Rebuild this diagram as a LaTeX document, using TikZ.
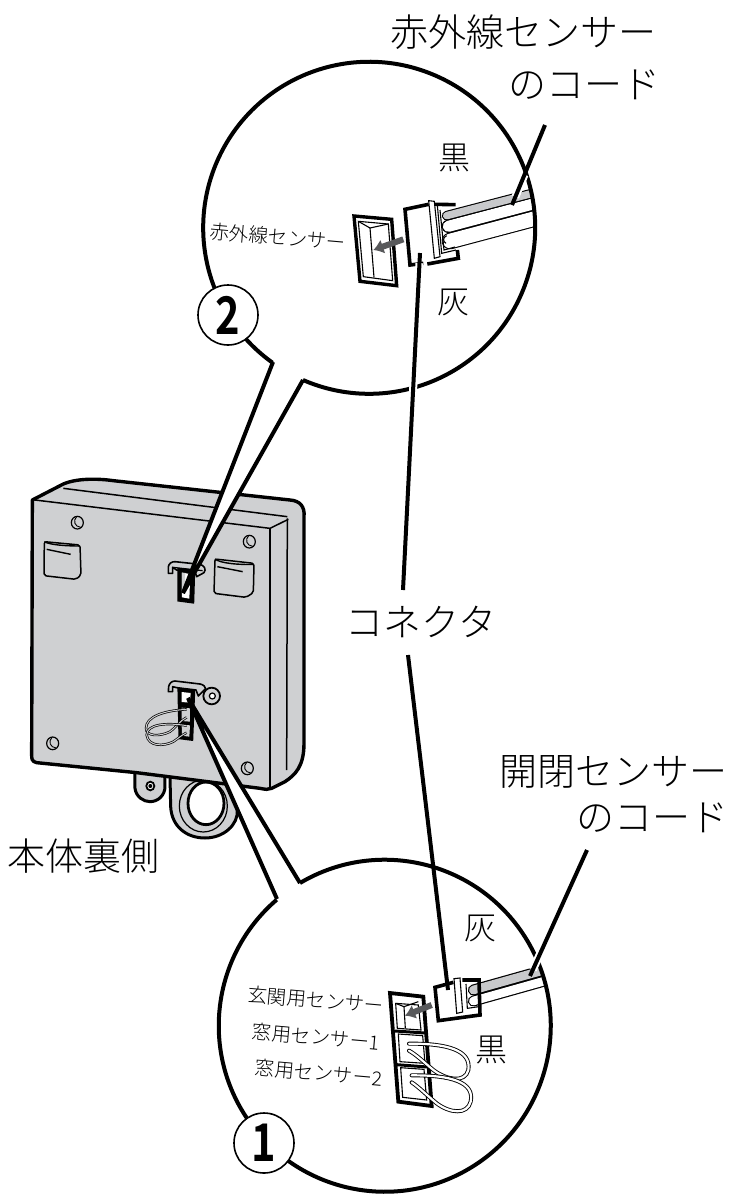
\documentclass[tikz,border=0pt]{standalone}
\usepackage{fontspec}
\setmainfont{Noto Sans CJK JP}[UprightFont=* Light,BoldFont=* Bold]
\definecolor{body}{HTML}{CFD0D2}
\definecolor{arrowgray}{HTML}{58595B}
\definecolor{wiregray}{HTML}{C8C9CB}
\usetikzlibrary{arrows.meta,calc}
\tikzset{
 big/.style={font=\fontsize{38}{38}\selectfont,inner sep=0pt},
 mid/.style={font=\fontsize{32}{32}\selectfont,inner sep=0pt},
 small/.style={font=\fontsize{19.5}{20}\selectfont,inner sep=0pt,rotate=-5},
 numc/.style={circle,draw,fill=white,line width=1.6pt,minimum size=60pt,inner sep=0pt,font=\fontsize{52}{52}\bfseries\selectfont},
 bubble/.style={line width=4pt},
 leader/.style={line width=4pt},
 halo/.style={white,line width=9pt},
 thick1/.style={line width=3pt,line join=miter},
 thin1/.style={line width=1.1pt},
 edge1/.style={line width=3pt,line join=round},
 wedge1/.style={fill=white,draw=none},
 wire/.style={black,line cap=round},
 wirein/.style={line cap=round},
 jump/.style={draw=black,line width=.9pt,double=white,double distance=2.2pt,line cap=round},
 jumpsmall/.style={draw=black,line width=.7pt,double=body,double distance=1pt},
 flow/.style={line width=6pt,arrowgray,-{Latex[length=10pt,width=15pt]}},
 hole/.style={draw=black,line width=1.2pt,fill=body},
}
\begin{document}
\begin{tikzpicture}[x=1pt,y=-1pt]
\useasboundingbox (0,0) rectangle (733,1194);
\fill[white] (0,0) rectangle (733,1194);

% ===== main unit, in 3x zoom coordinates
\begin{scope}[xshift=0pt,yshift=-460pt,x=.33333pt,y=-.33333pt]
 % ring
 \draw[edge1,fill=body] (510,950) -- (512,1040) .. controls (515,1100) and (560,1134) .. (615,1134) .. controls (670,1134) and (715,1095) .. (712,1050) -- (700,950) -- cycle;
 \draw[line width=1.2pt] (610,1038) ellipse [x radius=72pt/3,y radius=78pt/3];
 \draw[line width=2.8pt,fill=white] (618,1030) ellipse [x radius=54pt/3,y radius=64pt/3];
 % tab
 \draw[edge1,fill=body] (405,930) -- (405,985) .. controls (408,1010) and (430,1025) .. (450,1025) .. controls (475,1025) and (495,1005) .. (495,980) -- (495,945) -- cycle;
 \draw[line width=1.8pt,fill=white] (451,978) ellipse [x radius=12pt/3,y radius=13pt/3];
 \fill (451,978) circle [radius=6pt/3];
 % body
 \draw[line width=3.4pt,fill=body,line join=round] (97,120) -- (190,72) .. controls (230,55) and (290,55) .. (340,62) -- (870,120) .. controls (900,122) and (915,140) .. (912,170) -- (912,850) .. controls (912,920) and (885,945) .. (855,965) -- (815,985) .. controls (805,990) and (795,988) .. (780,985) -- (410,938) -- (110,908) .. controls (95,905) and (95,895) .. (95,885) -- cycle;
 \draw[line width=1.5pt] (105,120) -- (810,205) -- (865,178);
 \draw[line width=1.5pt] (190,85) -- (862,170);
 \draw[line width=1.5pt] (810,205) -- (810,985);
 \draw[line width=1.5pt] (862,175) -- (860,930);
 % holes
 \foreach \hx/\hy/\hn in {232/188/a,748/245/b,158/850/c,742/925/d}{
  \draw[hole] (\hx,\hy) ellipse [x radius=18pt/3,y radius=19pt/3];
  \draw[line width=.9pt] (\hx-2,\hy-18) .. controls (\hx-14,\hy-6) and (\hx-8,\hy+12) .. (\hx+10,\hy+14);
 }
 % left and right feet
 \draw[line width=1.5pt,fill=body,line join=round,rounded corners=2pt] (133,245) -- (240,255) -- (243,345) -- (228,358) -- (132,347) -- cycle;
 \draw[line width=1.4pt] (133,245) .. controls (150,255) and (200,258) .. (240,258);
 \draw[line width=1.4pt] (140,268) -- (212,283);
 \draw[line width=1.5pt,fill=body,line join=round,rounded corners=2pt] (645,297) -- (762,310) -- (760,398) -- (738,412) -- (642,400) -- cycle;
 \draw[line width=1.4pt] (645,297) .. controls (660,310) and (720,315) .. (762,313);
 \draw[line width=1.4pt] (652,320) -- (728,335);
 % upper clip + socket
 \draw[line width=1.6pt,fill=body,line join=round] (505,340) -- (505,320) .. controls (507,310) and (515,305) .. (525,305) -- (600,313) .. controls (612,316) and (620,328) .. (612,338) -- (590,350) -- (585,335) -- (530,330) -- (518,322) -- (518,340) -- cycle;
 \draw[line width=1.2pt] (518,322) -- (608,332);
 \draw[line width=1.8pt,fill=black] (535,326) -- (583,332) -- (580,428) -- (535,422) -- cycle;
 \fill[white] (546,338) -- (571,342) -- (568,416) -- (546,412) -- cycle;
 \fill[body] (546,338) -- (556,339) -- (553,400) -- (546,400) -- cycle;
 % lower clip + socket
 \draw[line width=1.6pt,fill=body,line join=round] (505,695) -- (506,680) .. controls (508,670) and (515,663) .. (525,663) -- (600,672) .. controls (610,674) and (617,680) .. (617,686) -- (595,708) -- (588,690) -- (530,683) -- (518,680) -- (518,695) -- cycle;
 \draw[line width=1.8pt,fill=black] (535,685) -- (583,692) -- (577,840) -- (538,835) -- cycle;
 \fill[white] (545,696) -- (572,699) -- (570,728) -- (545,726) -- cycle;
 \fill[body] (545,743) -- (570,745) -- (570,785) -- (545,783) -- cycle;
 \fill[body] (545,794) -- (570,796) -- (568,830) -- (546,827) -- cycle;
 \draw[line width=1.8pt] (635,708) circle [radius=25pt/3];
 \draw[line width=1.2pt,fill=white] (637,708) circle [radius=9pt/3];
 % lower loop wires
 \draw[jumpsmall] (560,748) .. controls (490,752) and (438,770) .. (438,805) .. controls (438,830) and (480,830) .. (510,815) .. controls (530,800) and (540,782) .. (560,772);
 \draw[jumpsmall] (560,797) .. controls (500,787) and (440,792) .. (440,825) .. controls (445,860) and (490,860) .. (520,845) .. controls (535,835) and (545,825) .. (560,818);
\end{scope}

% ===== bubble 2 (top)
\coordinate (cTop) at (369,228);
\coordinate (tipTop) at (183,593);
\coordinate (pTopA) at (303,380);
\coordinate (pTopB) at (273,362);
\fill[white] (cTop) circle [radius=166pt];
\fill[wedge1] (tipTop) -- (pTopA) -- (pTopB) -- cycle;
\draw[bubble,line join=miter] (pTopB) -- (tipTop) -- (pTopA);
% ===== bubble 1 (bottom)
\coordinate (cBot) at (385,1026);
\coordinate (tipBot) at (188,698);
\coordinate (pBotA) at (300,883);
\coordinate (pBotB) at (277,899);
\fill[white] (cBot) circle [radius=166pt];
\fill[wedge1] (tipBot) -- (pBotA) -- (pBotB) -- cycle;
\draw[bubble,line join=miter] (pBotB) -- (tipBot) -- (pBotA);

% ===== top detail, zoom coordinates
\begin{scope}[xshift=190pt,yshift=-110pt,x=.33333pt,y=-.33333pt]
 \begin{scope}
  \clip (cTop) circle [radius=166pt];
  \draw[wire,line width=16.7pt] (780,393) -- (1100,308);
  \draw[white,wirein,line width=14.5pt] (780,393) -- (1100,308);
  \draw[wire,line width=13.3pt] (775,349) -- (1100,263);
  \draw[white,wirein,line width=11.1pt] (775,349) -- (1100,263);
  \draw[wire,line width=9.6pt] (770,317) -- (1100,231);
  \draw[wiregray,wirein,line width=7.4pt] (770,317) -- (1100,231);
 \end{scope}
 \draw[thin1] (770,377) .. controls (758,382) and (758,395) .. (768,400);
 % socket
 \draw[thick1,line width=3.4pt,fill=white] (492,318) -- (605,328) -- (620,527) -- (510,514) -- cycle;
 \draw[thin1] (505,334) -- (595,342) -- (608,512) -- (520,500) -- cycle;
 \draw[thin1] (505,334) -- (540,354) -- (595,342);
 \draw[thin1] (540,354) -- (552,502);
 \draw[flow] (640,388) -- (550,420);
 % plug
 \draw[thick1,line width=3.6pt] (716,283) -- (645,298) -- (660,465) -- (700,460);
 \draw[thick1,line width=3.6pt] (735,283) -- (797,284);
 \draw[thick1,line width=3.6pt] (712,462) -- (805,445) -- (802,420);
 \draw[thin1,fill=white] (716,272) -- (733,274) -- (750,440) -- (733,445) -- cycle;
 \draw[thin1] (742,285) -- (755,430) -- (798,420);
 \draw[thin1] (750,300) -- (762,420) -- (795,411);
\end{scope}

% ===== bottom detail, zoom coordinates
\begin{scope}[xshift=220pt,yshift=-900pt,x=.33333pt,y=-.33333pt]
 \begin{scope}
  \clip (cBot) circle [radius=166pt];
  \draw[wire,line width=11pt] (760,303) -- (1080,213);
  \draw[white,wirein,line width=8.6pt] (760,303) -- (1080,213);
  \draw[wire,line width=11pt] (760,270) -- (1080,180);
  \draw[wiregray,wirein,line width=8.6pt] (760,270) -- (1080,180);
 \end{scope}
 % socket
 \draw[thick1,line width=3.8pt,fill=white] (510,279) -- (610,290) -- (635,618) -- (535,605) -- cycle;
 \draw[line width=3pt] (525,393) -- (615,399);
 \draw[line width=3pt] (530,494) -- (622,501);
 \draw[thin1] (527,310) -- (595,315) -- (603,390) -- (532,385) -- cycle;
 \draw[thin1] (527,310) -- (552,320) -- (595,305);
 \draw[thin1] (552,320) -- (556,385);
 \draw[thin1] (535,402) -- (608,407) -- (615,490) -- (540,485) -- cycle;
 \draw[thin1] (542,503) -- (612,508) -- (620,600) -- (548,592) -- cycle;
 \draw[flow] (635,315) -- (555,347);
 % plug
 \draw[thick1,line width=3.6pt] (700,247) -- (645,262) -- (655,362) -- (780,345) -- (777,240) -- (727,240);
 \draw[thin1,fill=white] (702,236) -- (720,234) -- (728,336) -- (710,340) -- cycle;
 \draw[thin1] (738,252) -- (742,325) -- (776,320);
 % jumpers
 \draw[jump] (567,431) .. controls (680,430) and (755,450) .. (745,510) .. controls (735,550) and (680,540) .. (640,510) .. controls (610,485) and (590,465) .. (567,452);
 \draw[jump] (575,526) .. controls (690,525) and (765,545) .. (752,605) .. controls (742,645) and (690,640) .. (650,610) .. controls (620,585) and (595,560) .. (575,547);
\end{scope}

% ===== bubble outlines
\draw[bubble] (pTopA) arc [start angle=-113.5,end angle=234.4,radius=166pt];
\draw[bubble] (pBotA) arc [start angle=120.7,end angle=-229.4,radius=166pt];

% ===== number badges
\node[numc] (numTwo) at (228,315) {\scalebox{.8}[1]{2}};
\node[numc] (numOne) at (264,1143) {\scalebox{.8}[1]{1}};

% ===== labels
\node[big] (irCordA) at (523,32) {赤外線センサー};
\node[big] (irCordB) at (584,85) {のコード};
\node[big] (doorCordA) at (613,772) {開閉センサー};
\node[big] (doorCordB) at (652,818) {のコード};
\node[big] (conn) at (421,622) {コネクタ};
\node[big] (rear) at (84,856) {本体裏側};
\node[mid] (blackTop) at (454,158) {黒};
\node[mid] (grayTop) at (453,302) {灰};
\node[mid] (grayBot) at (480,928) {灰};
\node[mid] (blackBot) at (491,1050) {黒};
\node[small] (irLabel) at (278,237) {赤外線センサー};
\node[small] (entry) at (316,1000) {玄関用センサー};
\node[small] (win1) at (316,1037) {窓用センサー1};
\node[small] (win2) at (319,1073) {窓用センサー2};

% ===== leaders
\coordinate (irCordEnd) at (545,125);
\coordinate (irCordTip) at (512,205);
\coordinate (doorEnd) at (587,850);
\coordinate (doorTip) at (530,976);
\coordinate (connTop) at (420,253);
\coordinate (connUp) at (403,590);
\coordinate (connDown) at (408,655);
\coordinate (connBot) at (448,990);
\draw[halo,line width=8pt] ($(irCordEnd)!.62!(irCordTip)$) -- ($(irCordEnd)!.9!(irCordTip)$);
\draw[halo,line width=8pt] ($(doorEnd)!.72!(doorTip)$) -- ($(doorEnd)!.95!(doorTip)$);
\draw[leader] (irCordEnd) -- (irCordTip);
\draw[leader] (doorEnd) -- (doorTip);
\draw[halo,line width=8pt] ($(connUp)!.5!(connTop)$) -- ($(connUp)!.97!(connTop)$);
\draw[leader] (connUp) -- (connTop);
\draw[leader] (connDown) -- (connBot);
\end{tikzpicture}
\end{document}
